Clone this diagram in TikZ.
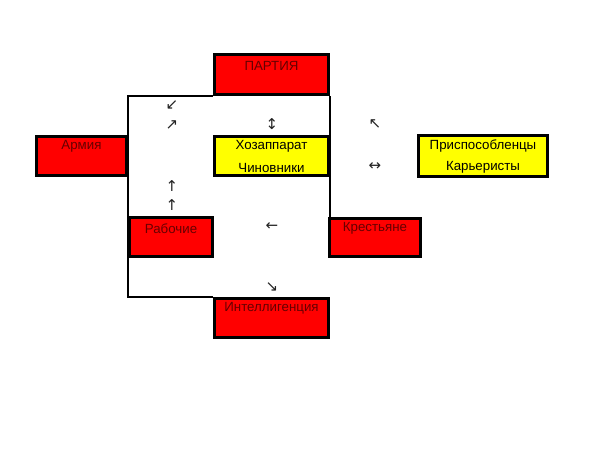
\documentclass[tikz,border=0pt]{standalone}
\usepackage{fontspec}
\setmainfont{Liberation Sans}
\newfontfamily\arrfont{DejaVu Sans}
\definecolor{boxred}{HTML}{FF0000}
\definecolor{boxyellow}{HTML}{FFFF00}
\definecolor{darkred}{HTML}{660000}
\definecolor{arrgray}{HTML}{222222}
\tikzset{
  redbox/.style={draw=black, line width=3pt, fill=boxred, inner sep=0pt},
  yelbox/.style={draw=black, line width=3pt, fill=boxyellow, inner sep=0pt},
  redtxt/.style={text=darkred, font=\fontsize{13.3}{15}\selectfont, inner sep=0pt},
  yeltxt/.style={text=black, font=\fontsize{13.3}{15}\selectfont, inner sep=0pt},
  arr/.style={text=arrgray, font=\arrfont\fontsize{15}{17}\selectfont, inner sep=0pt},
  frame/.style={draw=black, line width=2pt}
}
\begin{document}
\begin{tikzpicture}[x=1pt,y=-1pt]
\useasboundingbox (0,0) rectangle (600,450);
\fill[white] (0,0) rectangle (600,450);
% boxes
\node[redbox, minimum width=114pt, minimum height=40pt] (party) at (271.5,74.5) {};
\node[redbox, minimum width=90pt, minimum height=39pt] (army) at (81.5,156) {};
\node[yelbox, minimum width=114pt, minimum height=39pt] (hoz) at (271.5,156) {};
\node[yelbox, minimum width=129pt, minimum height=41pt] (prisp) at (483,156) {};
\node[redbox, minimum width=83pt, minimum height=39pt] (rab) at (171,237) {};
\node[redbox, minimum width=91pt, minimum height=38pt] (kres) at (375,237.5) {};
\node[redbox, minimum width=114pt, minimum height=39pt] (int) at (271.5,318) {};
% frame lines
\draw[frame] (party.south west) -| (rab.west |- int.north) -- (int.north west);
\draw[frame] (party.south east) -- (party.south east |- kres.north);
% texts
\node[redtxt] (tparty) at (271.5,65.5) {ПАРТИЯ};
\node[redtxt] (tarmy) at (81.5,146.5) {Армия};
\node[yeltxt] (thoz1) at (271.5,146.5) {Хозаппарат};
\node[yeltxt] (thoz2) at (271.5,167.5) {Чиновники};
\node[yeltxt] (tprisp1) at (483,146.5) {Приспособленцы};
\node[yeltxt] (tprisp2) at (483,167.5) {Карьеристы};
\node[redtxt] (trab) at (171,228.5) {Рабочие};
\node[redtxt] (tkres) at (375,228.5) {Крестьяне};
\node[redtxt] (tint) at (271.5,308.5) {Интеллигенция};
% arrow glyphs
\node[arr] (a1) at (172,105) {↙};
\node[arr] (a2) at (172,125) {↗};
\node[arr] (a3) at (272,124) {↕};
\node[arr] (a4) at (375,124) {↖};
\node[arr] (a5) at (375,167) {↔};
\node[arr] (a6) at (172,186) {↑};
\node[arr] (a7) at (172,205) {↑};
\node[arr] (a8) at (272,227) {←};
\node[arr] (a9) at (272,287) {↘};
\end{tikzpicture}
\end{document}
